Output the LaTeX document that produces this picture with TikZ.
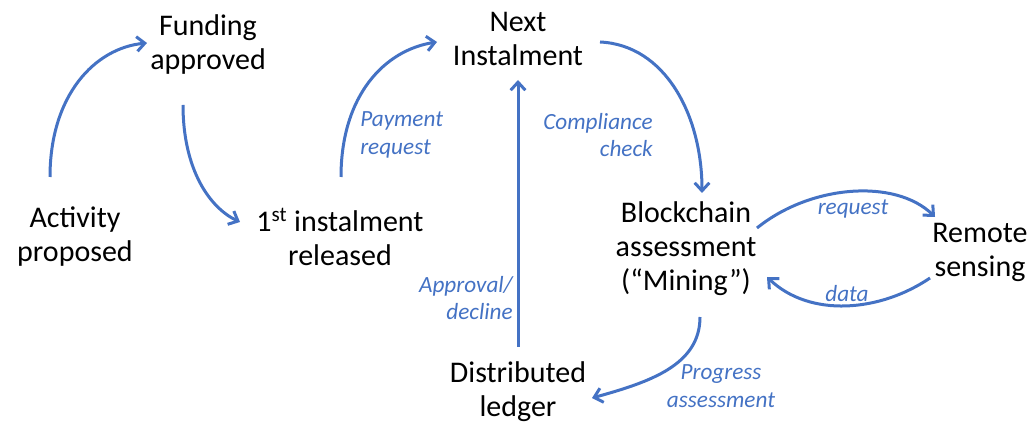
\documentclass[tikz,border=0pt]{standalone}
\usepackage{fontspec}
\setmainfont{Carlito}
\usetikzlibrary{arrows.meta}
\definecolor{arrblue}{RGB}{68,114,196}
\begin{document}
\begin{tikzpicture}[x=0.75pt,y=-0.75pt,
  state/.style={align=center,inner sep=0pt,font=\fontsize{22.5pt}{25.5pt}\selectfont},
  lbl/.style={inner sep=0pt,text=arrblue,font=\fontsize{17.4pt}{20.5pt}\selectfont\itshape},
  conn/.style={draw=arrblue,line width=2.25pt,-{Straight Barb[length=6pt,width=11pt,line width=2.25pt]}}]
\useasboundingbox (0,0) rectangle (1030,423);
\node[state] (act) at (75,237) {Activity\\proposed};
\node[state] (fund) at (208,45) {Funding\\approved};
\node[state] (inst1) at (340,237) {1\textsuperscript{st} instalment\\released};
\node[state] (next) at (518,39) {Next\\Instalment};
\node[state] (block) at (686,249) {Blockchain\\assessment\\(“Mining”)};
\node[state] (remote) at (980,252) {Remote\\sensing};
\node[state] (ledger) at (518,392) {Distributed\\ledger};

\draw[conn] ([shift={(-25,-60)}]act.center) .. controls (50,95) and (95,48) .. ([shift={(-61,-2)}]fund.center);
\draw[conn] ([shift={(-25,60)}]fund.center) .. controls (183,170) and (210,208) .. ([shift={(-100,-15)}]inst1.center);
\draw[conn] ([shift={(1,-60)}]inst1.center) .. controls (341,95) and (385,50) .. ([shift={(-81,3)}]next.center);
\draw[conn] ([shift={(82,3)}]next.center) .. controls (665,45) and (702,115) .. ([shift={(16,-56)}]block.center);
\draw[conn] ([shift={(0,-45)}]ledger.center) -- ([shift={(0,41)}]next.center);
\draw[conn] ([shift={(71,-21)}]block.center) .. controls (810,185) and (895,178) .. ([shift={(-45,-35)}]remote.center);
\draw[conn] ([shift={(-50,26)}]remote.center) .. controls (880,312) and (810,318) .. ([shift={(81,28)}]block.center);
\draw[conn] ([shift={(14,68)}]block.center) .. controls (700,365) and (650,382) .. ([shift={(74,6)}]ledger.center);

\node[lbl,align=left,anchor=west] (lpay) at (360,135) {Payment\\request};
\node[lbl,align=right,anchor=east] (lcomp) at (653,135) {Compliance\\check};
\node[lbl] (lreq) at (853,209) {request};
\node[lbl] (ldata) at (847,294) {data};
\node[lbl,align=center] (lprog) at (721,386) {Progress\\assessment};
\node[lbl,align=right,anchor=east] (lappr) at (513,298) {Approval/\\decline};
\end{tikzpicture}
\end{document}
